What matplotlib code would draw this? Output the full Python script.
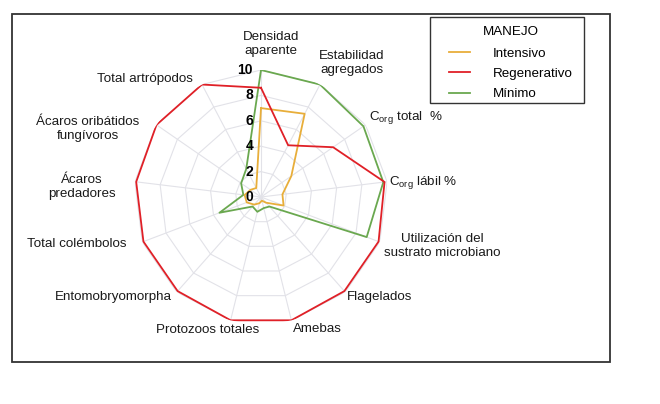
import numpy as np
import matplotlib
matplotlib.use('Agg')
import matplotlib.pyplot as plt
from matplotlib.lines import Line2D
from matplotlib.patches import Rectangle

plt.rcParams['font.family'] = ['Liberation Sans', 'DejaVu Sans']
plt.rcParams['mathtext.fontset'] = 'custom'
plt.rcParams['mathtext.rm'] = 'Liberation Sans'
plt.rcParams['mathtext.it'] = 'Liberation Sans'

# ejes del radar (en sentido horario desde arriba)
categorias = ['Densidad\naparente', 'Estabilidad\nagregados', r'C$_{\mathrm{org}}$ total  %',
              r'C$_{\mathrm{org}}$ lábil %', 'Utilización del\nsustrato microbiano',
              'Flagelados', 'Amebas', 'Protozoos totales', 'Entomobryomorpha',
              'Total colémbolos', 'Ácaros\npredadores', 'Ácaros oribátidos\nfungívoros',
              'Total artrópodos']

intensivo = [7.0, 7.4, 2.9, 1.7, 1.9, 0.6, 0.3, 0.5, 0.8, 1.2, 1.3, 1.0, 0.8]
regenerativo = [8.6, 4.6, 6.9, 9.8, 9.9, 9.9, 10, 10, 9.9, 9.9, 9.9, 10, 10]
minimo = [10, 10, 9.8, 9.7, 8.9, 1.0, 0.9, 1.2, 1.0, 3.5, 1.4, 1.9, 2.5]
ticks = [0, 2, 4, 6, 8, 10]

# posiciones de las etiquetas (pixeles de la imagen) y alineacion
pos_etiquetas = [(271, 44, 'center'), (352, 63, 'center'), (369, 118, 'left'),
                 (389, 183, 'left'), (442, 246, 'center'), (380, 297, 'center'),
                 (317, 329, 'center'), (208, 330, 'center'), (113, 297, 'center'),
                 (77, 244, 'center'), (82, 187, 'center'), (88, 129, 'center'),
                 (145, 79, 'center')]

W, H = 660, 404
fig = plt.figure(figsize=(6.6, 4.04), dpi=100)
cx, cy, R = 261, 197, 127
ax = fig.add_axes([(cx - R) / W, 1 - (cy + R) / H, 2 * R / W, 2 * R / H], projection='polar')
ax.set_theta_zero_location('N')
ax.set_theta_direction(-1)
ax.set_ylim(0, 10)
ax.grid(False)
ax.spines['polar'].set_visible(False)
ax.set_xticks([])
ax.set_yticks([])
ax.patch.set_alpha(0)

n = len(categorias)
ang = np.linspace(0, 2 * np.pi, n, endpoint=False)
ang_c = np.append(ang, ang[0])

# rejilla poligonal
for t in ticks[1:]:
    ax.plot(ang_c, [t] * (n + 1), color='#e2e2e8', lw=0.8, zorder=1)
for a in ang:
    ax.plot([a, a], [0, 10], color='#e2e2e8', lw=0.8, zorder=1)

colores = {'Intensivo': '#E8AE3A', 'Regenerativo': '#E02027', 'Mínimo': '#6AA84F'}
series = {'Intensivo': intensivo, 'Regenerativo': regenerativo, 'Mínimo': minimo}
for nombre in ['Mínimo', 'Intensivo', 'Regenerativo']:
    vals = series[nombre]
    ax.plot(ang_c, vals + vals[:1], color=colores[nombre], lw=1.3, zorder=3)

for t in ticks:
    ax.annotate(str(t), xy=(0, t), xytext=(-8, 0), textcoords='offset pixels',
                ha='right', va='center', fontsize=10, fontweight='bold', zorder=4)

for lab, (x, y, ha) in zip(categorias, pos_etiquetas):
    fig.text(x / W, 1 - y / H, lab, ha=ha, va='center', fontsize=9.6,
             linespacing=1.2, color='#1a1a1a')

# leyenda sin marco + marco aparte
handles = [Line2D([], [], color=colores[k], lw=1.3) for k in ['Intensivo', 'Regenerativo', 'Mínimo']]
leg = fig.legend(handles, ['Intensivo', 'Regenerativo', 'Mínimo'], title='MANEJO',
                 loc='upper left', bbox_to_anchor=(449 / W, 1 - 26 / H),
                 frameon=False, fontsize=9.6, title_fontsize=9.6,
                 handlelength=1.6, labelspacing=0.58, borderpad=0.0,
                 handletextpad=1.7, borderaxespad=0)
leg._legend_box.sep = 7
fig.add_artist(Rectangle((430 / W, 1 - 103 / H), 154 / W, 86 / H, transform=fig.transFigure,
                         fill=False, edgecolor='#333333', lw=1.0))

fig.add_artist(Rectangle((12 / W, 1 - 362 / H), 598 / W, 348 / H, transform=fig.transFigure,
                         fill=False, edgecolor='#333333', lw=1.3))

plt.savefig('out.png', dpi=100)
